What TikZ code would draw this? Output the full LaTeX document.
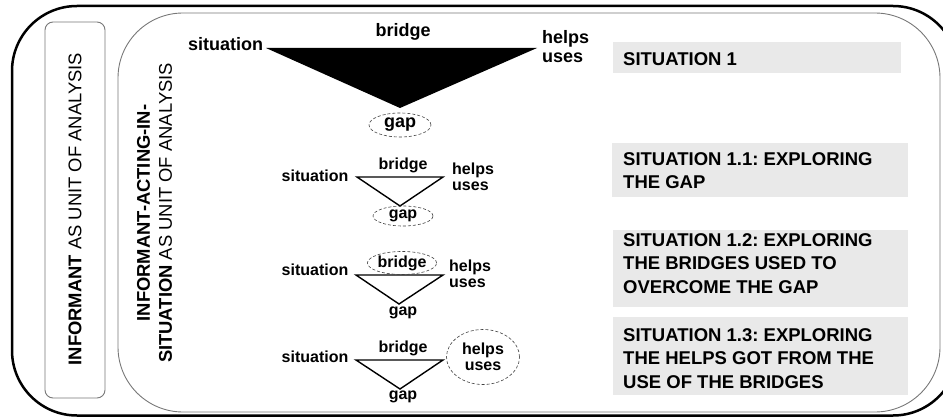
\documentclass[tikz,border=0pt]{standalone}
\usepackage{fontspec}
\setmainfont{Liberation Sans}
\usetikzlibrary{shapes.geometric}
\definecolor{boxgray}{RGB}{233,233,233}
\definecolor{framegray}{RGB}{120,120,120}
\frenchspacing
\begin{document}
\begin{tikzpicture}[x=1pt,y=-1pt,
  lbl/.style={font=\bfseries\fontsize{16}{16}\selectfont, inner sep=0},
  biglbl/.style={font=\bfseries\fontsize{18}{19}\selectfont, inner sep=0},
  tri/.style={draw=black, line width=1.4pt, line join=miter},
  dashell/.style={ellipse, draw=black!75, dash pattern=on 3pt off 2pt, line width=0.6pt, inner sep=0},
  sitbox/.style={fill=boxgray, inner sep=0, anchor=north west},
  sittext/.style={font=\bfseries\fontsize{18.5}{23.5}\selectfont, align=left, anchor=north west, inner sep=0},
  vtext/.style={font=\fontsize{18.4}{22}\selectfont, rotate=90, align=center, inner sep=0},
  frame/.style={draw=framegray, line width=0.9pt}
]
\useasboundingbox (0,0) rectangle (943,417);
\begin{scope}
  \clip (0,0) rectangle (943,417);
  \draw[line width=2.5pt, rounded corners=65pt] (12,6) rectangle (958,415.5);
\end{scope}
\draw[frame, rounded corners=65pt] (118,13) rectangle (940,412);
\draw[frame, rounded corners=8pt] (45,22) rectangle (105,398);

% vertical titles
\node[vtext] (unit1) at (75,209) {\textbf{INFORMANT} AS UNIT OF ANALYSIS};
\node[vtext] (unit2) at (154.5,213) {\textbf{INFORMANT-ACTING-IN-}\\\textbf{SITUATION} AS UNIT OF ANALYSIS};

% situation 1 (filled triangle)
\coordinate (t1l) at (266,48);
\coordinate (t1r) at (537,48);
\coordinate (t1a) at (400,108);
\fill[black] (t1l) -- (t1r) -- (t1a) -- cycle;
\node[biglbl] (sit1) at (225.5,44) {situation};
\node[biglbl] (br1) at (403,31.5) {bridge};
\node[biglbl, align=left, anchor=west] (hu1) at (542,46.5) {helps\\uses};
\node[dashell, biglbl, minimum width=62pt, minimum height=24pt] (gap1) at (400,125) {gap};

% situation 1.1
\coordinate (t2l) at (357,177);
\coordinate (t2r) at (443,177);
\coordinate (t2a) at (400,206);
\draw[tri] (t2l) -- (t2r) -- (t2a) -- cycle;
\node[lbl] (sit2) at (315,176) {situation};
\node[lbl] (br2) at (403,165) {bridge};
\node[lbl, align=left, anchor=west] (hu2) at (452,177) {helps\\uses};
\node[dashell, lbl, minimum width=60pt, minimum height=20pt] (gap2) at (403,216) {gap};

% situation 1.2
\coordinate (t3l) at (356,275);
\coordinate (t3r) at (443,275);
\coordinate (t3a) at (399,304);
\draw[tri] (t3l) -- (t3r) -- (t3a) -- cycle;
\node[lbl] (sit3) at (315,270) {situation};
\node[dashell, lbl, minimum width=68pt, minimum height=23pt] (br3) at (402,263) {bridge};
\node[lbl, align=left, anchor=west] (hu3) at (449,273.5) {helps\\uses};
\node[lbl] (gap3) at (403,313) {gap};

% situation 1.3
\coordinate (t4l) at (356,360);
\coordinate (t4r) at (443,360);
\coordinate (t4a) at (400,389);
\draw[tri] (t4l) -- (t4r) -- (t4a) -- cycle;
\node[lbl] (sit4) at (315,357) {situation};
\node[lbl] (br4) at (403,348) {bridge};
\node[dashell, lbl, align=center, minimum width=73pt, minimum height=55pt] (hu4) at (483,357) {helps\\uses};
\node[lbl] (gap4) at (403,397) {gap};

% right-hand boxes
\node[sitbox, minimum width=288pt, minimum height=31pt] (box1) at (613,42) {};
\node[sitbox, minimum width=296pt, minimum height=54pt] (box2) at (612,143) {};
\node[sitbox, minimum width=295pt, minimum height=77pt] (box3) at (613,230) {};
\node[sitbox, minimum width=295pt, minimum height=78pt] (box4) at (613,317) {};
\node[sittext] (txt1) at (623,52) {SITUATION 1};
\node[sittext] (txt2) at (623,152) {SITUATION 1.1: EXPLORING\\THE GAP};
\node[sittext] (txt3) at (623,233) {SITUATION 1.2: EXPLORING\\THE BRIDGES USED TO\\OVERCOME THE GAP};
\node[sittext] (txt4) at (623,328) {SITUATION 1.3: EXPLORING\\THE HELPS GOT FROM THE\\USE OF THE BRIDGES};
\end{tikzpicture}
\end{document}
